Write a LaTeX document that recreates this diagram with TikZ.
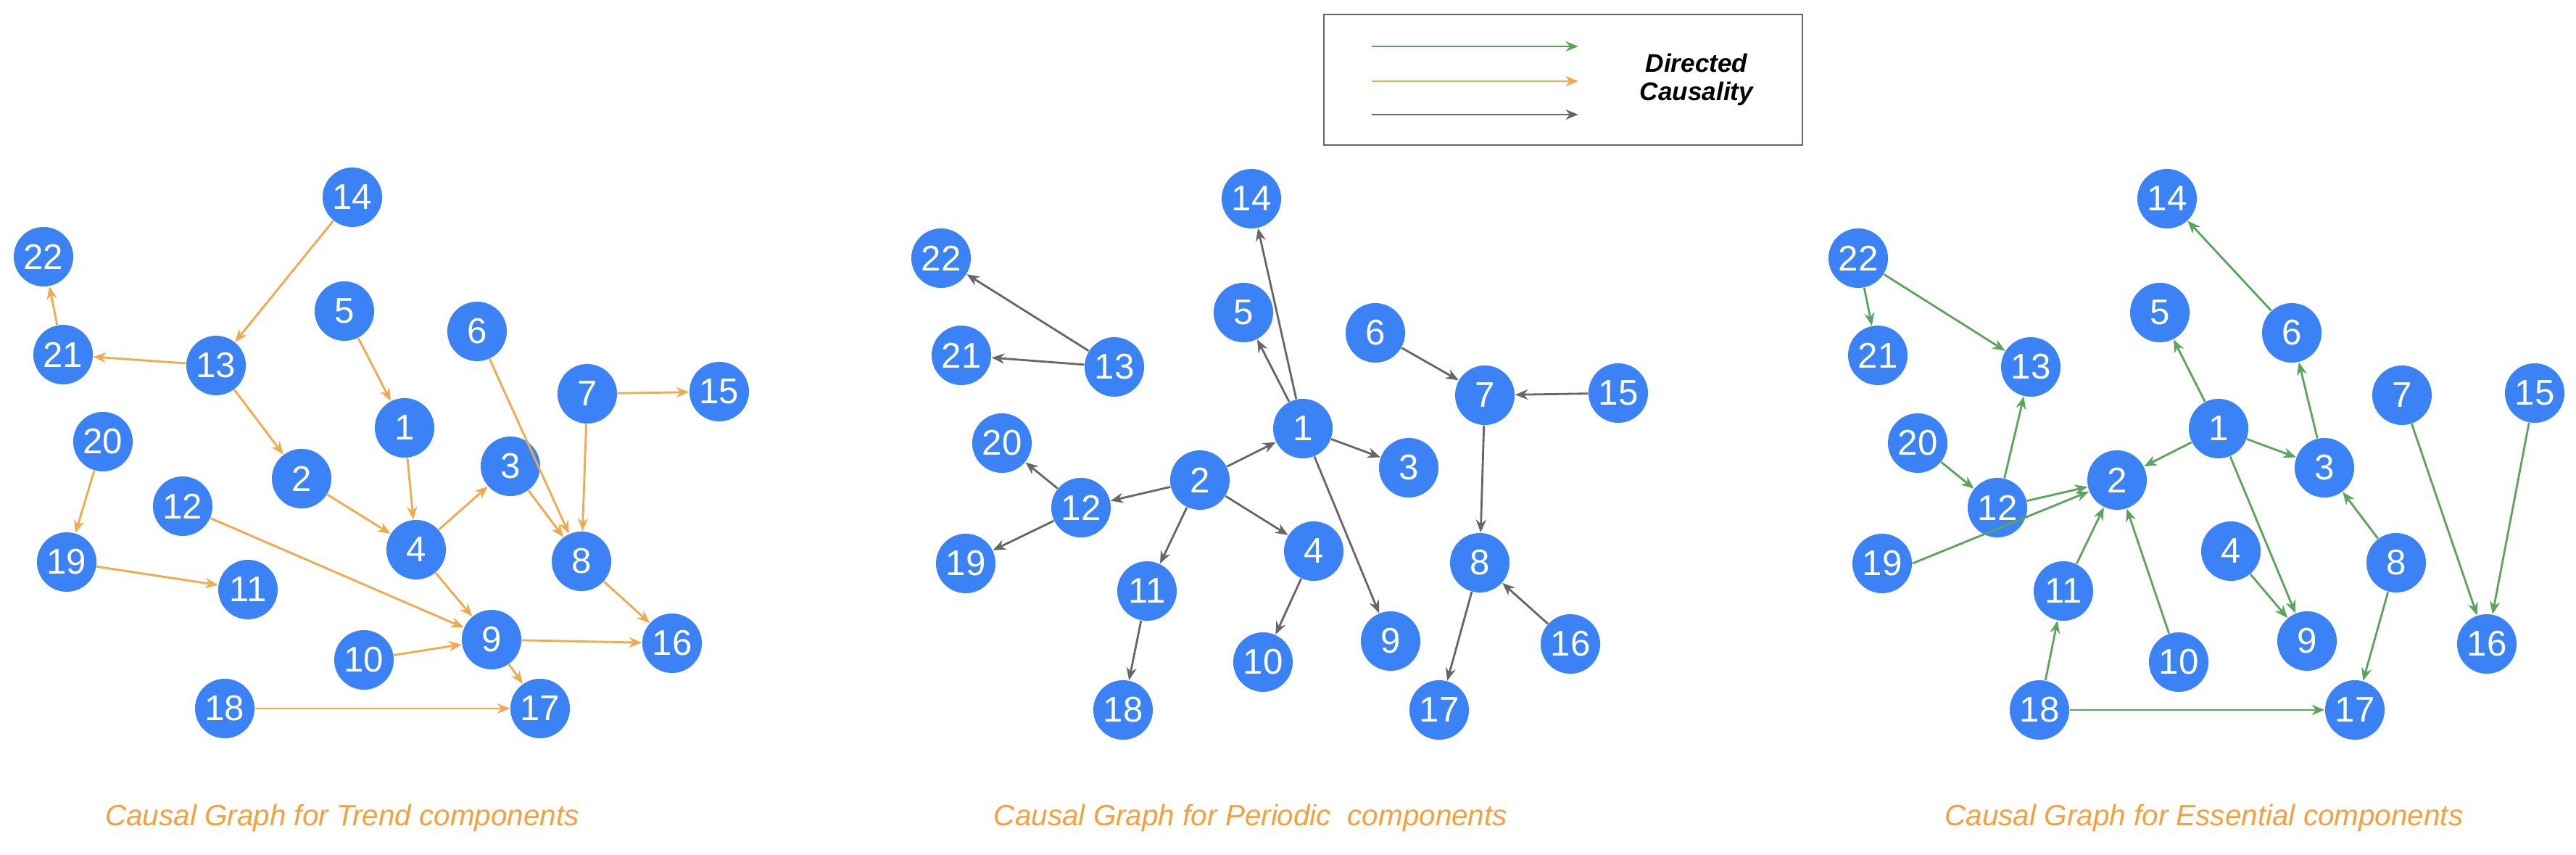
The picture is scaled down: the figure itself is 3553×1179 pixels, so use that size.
\documentclass[tikz,border=0pt]{standalone}
\usepackage{fontspec}
\setmainfont{Liberation Sans}
\usetikzlibrary{arrows.meta}
\definecolor{nodeblue}{RGB}{59,130,246}
\definecolor{eor}{RGB}{245,168,74}
\definecolor{egr}{RGB}{91,165,90}
\definecolor{egy}{RGB}{102,102,102}
\definecolor{capor}{RGB}{245,160,60}
\tikzset{
  v/.style={circle,fill=nodeblue,draw=none,minimum size=0.82cm,inner sep=0pt,text=white,font=\fontsize{14}{14}\selectfont},
  e/.style={-{Stealth[length=5pt,width=4pt]},line width=0.8pt},
  eo/.style={e,draw=eor},
  eg/.style={e,draw=egr},
  ey/.style={e,draw=egy},
  captxt/.style={text=capor,font=\fontsize{11.5}{12}\selectfont\itshape},
}
\begin{document}
\begin{tikzpicture}[x=0.01cm,y=-0.01cm]
\useasboundingbox (0,0) rectangle (3553,1179);
% legend
\node[draw=egy,line width=0.6pt,minimum width=6.59cm,minimum height=1.8cm,inner sep=0pt] (leg) at (2156,110) {};
\coordinate (la1) at (1892,64); \coordinate (lb1) at (2177,64);
\coordinate (la2) at (1892,112); \coordinate (lb2) at (2177,112);
\coordinate (la3) at (1892,158); \coordinate (lb3) at (2177,158);
\draw[eg] (la1) -- (lb1);
\draw[eo] (la2) -- (lb2);
\draw[ey] (la3) -- (lb3);
\node[font=\fontsize{10}{11}\selectfont\bfseries\itshape,align=center] (legt) at (2340,110) {Directed\\Causality};
% ---------- graph 1 (trend)
\node[v] (a14) at (486,272) {14};
\node[v] (a22) at (60,354) {22};
\node[v] (a21) at (87,489) {21};
\node[v] (a13) at (298,504) {13};
\node[v] (a5) at (475,429) {5};
\node[v] (a6) at (658,457) {6};
\node[v] (a7) at (810,543) {7};
\node[v] (a15) at (992,540) {15};
\node[v] (a1) at (558,590) {1};
\node[v] (a20) at (142,609) {20};
\node[v] (a3) at (704,643) {3};
\node[v] (a2) at (416,660) {2};
\node[v] (a12) at (252,698) {12};
\node[v] (a4) at (574,758) {4};
\node[v] (a8) at (802,774) {8};
\node[v] (a19) at (92,775) {19};
\node[v] (a11) at (342,813) {11};
\node[v] (a9) at (678,882) {9};
\node[v] (a16) at (927,887) {16};
\node[v] (a10) at (502,910) {10};
\node[v] (a18) at (310,977) {18};
\node[v] (a17) at (745,977) {17};
\foreach \s/\t in {14/13,21/22,13/21,5/1,6/8,7/15,7/8,13/2,1/4,2/4,4/3,3/8,20/19,12/9,4/9,19/11,8/16,9/16,10/9,9/17,18/17}
  \draw[eo] (a\s) -- (a\t);
% ---------- graph 2 (periodic)
\node[v] (b14) at (1726,274) {14};
\node[v] (b22) at (1298,356) {22};
\node[v] (b5) at (1715,431) {5};
\node[v] (b6) at (1897,459) {6};
\node[v] (b21) at (1326,490) {21};
\node[v] (b13) at (1537,506) {13};
\node[v] (b7) at (2048,545) {7};
\node[v] (b15) at (2232,542) {15};
\node[v] (b1) at (1797,591) {1};
\node[v] (b20) at (1382,611) {20};
\node[v] (b3) at (1943,645) {3};
\node[v] (b2) at (1655,662) {2};
\node[v] (b12) at (1491,700) {12};
\node[v] (b4) at (1812,760) {4};
\node[v] (b8) at (2041,776) {8};
\node[v] (b19) at (1332,777) {19};
\node[v] (b11) at (1582,815) {11};
\node[v] (b9) at (1918,884) {9};
\node[v] (b16) at (2166,888) {16};
\node[v] (b10) at (1742,913) {10};
\node[v] (b18) at (1549,979) {18};
\node[v] (b17) at (1985,979) {17};
\foreach \s/\t in {13/22,13/21,1/5,1/14,6/7,15/7,2/1,1/3,1/9,12/20,2/12,12/19,2/11,2/4,11/18,4/10,7/8,16/8,8/17}
  \draw[ey] (b\s) -- (b\t);
% ---------- graph 3 (essential)
\node[v] (c14) at (2989,274) {14};
\node[v] (c22) at (2563,356) {22};
\node[v] (c5) at (2979,431) {5};
\node[v] (c6) at (3161,459) {6};
\node[v] (c21) at (2590,490) {21};
\node[v] (c13) at (2801,506) {13};
\node[v] (c7) at (3313,545) {7};
\node[v] (c15) at (3496,542) {15};
\node[v] (c1) at (3060,591) {1};
\node[v] (c20) at (2645,611) {20};
\node[v] (c3) at (3206,645) {3};
\node[v] (c2) at (2920,662) {2};
\node[v] (c12) at (2755,700) {12};
\node[v] (c4) at (3077,760) {4};
\node[v] (c8) at (3305,776) {8};
\node[v] (c19) at (2596,777) {19};
\node[v] (c11) at (2846,815) {11};
\node[v] (c9) at (3182,884) {9};
\node[v] (c16) at (3430,888) {16};
\node[v] (c10) at (3005,913) {10};
\node[v] (c18) at (2813,979) {18};
\node[v] (c17) at (3248,979) {17};
\foreach \s/\t in {6/14,22/21,22/13,1/5,3/6,12/13,20/12,1/2,1/3,12/2,11/2,10/2,1/9,4/9,8/3,7/16,15/16,18/11,18/17,8/17}
  \draw[eg] (c\s) -- (c\t);
\draw[eg] (c19.east) -- (c2);
% captions
\node[captxt] (cap1) at (472,1128) {Causal Graph for Trend components};
\node[captxt] (cap2) at (1725,1128) {Causal Graph for Periodic\ \ components};
\node[captxt] (cap3) at (3040,1128) {Causal Graph for Essential components};
\end{tikzpicture}
\end{document}
